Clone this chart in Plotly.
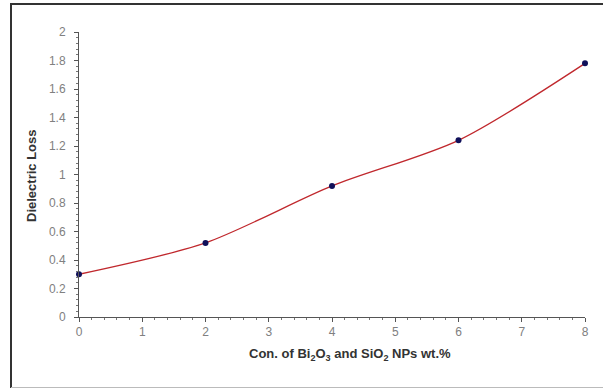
import plotly.graph_objects as go

conc = [0, 2, 4, 6, 8]
loss = [0.30, 0.52, 0.92, 1.24, 1.78]
x_ticks = [0, 1, 2, 3, 4, 5, 6, 7, 8]
y_ticks = [0, 0.2, 0.4, 0.6, 0.8, 1, 1.2, 1.4, 1.6, 1.8, 2]

fig = go.Figure()
fig.add_trace(go.Scatter(
    x=conc, y=loss, mode="lines+markers",
    line=dict(color="#c0282d", width=1.3, shape="spline", smoothing=0.8),
    marker=dict(color="#10105a", size=6),
    cliponaxis=False,
    showlegend=False,
))

W, H = 603, 389
l, r, t, b = 79, 18, 32, 72
pw, ph = W - l - r, H - t - b

def px(xp):
    return (xp - l) / pw

def py(yp):
    return (H - b - yp) / ph

fig.add_shape(type="line", xref="paper", yref="paper",
              x0=px(10), x1=px(603), y0=py(4), y1=py(4),
              line=dict(color="#333333", width=2))
fig.add_shape(type="line", xref="paper", yref="paper",
              x0=px(11), x1=px(11), y0=py(3), y1=py(388),
              line=dict(color="#333333", width=2))
fig.add_shape(type="line", xref="paper", yref="paper",
              x0=px(11), x1=px(603), y0=py(387.5), y1=py(387.5),
              line=dict(color="#bbbbbb", width=1))

fig.add_annotation(
    xref="paper", yref="paper", x=px(350), y=py(354),
    text="<b>Con. of Bi<sub>2</sub>O<sub>3</sub> and SiO<sub>2</sub> NPs wt.%</b>",
    showarrow=False, font=dict(family="Liberation Sans", size=13, color="#333333"),
    xanchor="center", yanchor="middle",
)
fig.add_annotation(
    xref="paper", yref="paper", x=px(31), y=py(176),
    text="<b>Dielectric Loss</b>", textangle=-90,
    showarrow=False, font=dict(family="Liberation Sans", size=13, color="#333333"),
    xanchor="center", yanchor="middle",
)

fig.update_layout(
    width=W, height=H,
    margin=dict(l=l, r=r, t=t, b=b),
    paper_bgcolor="white", plot_bgcolor="white",
    font=dict(family="Liberation Sans", size=12, color="#808080"),
)

fig.update_xaxes(
    range=[0, 8], tickvals=x_ticks, ticktext=[str(v) for v in x_ticks],
    showgrid=False, zeroline=False, showline=True, linecolor="#555555", linewidth=1,
    ticks="outside", ticklen=4, tickcolor="#555555",
    minor=dict(dtick=0.2, ticks="outside", ticklen=2, tickcolor="#777777"),
    tickfont=dict(size=12, color="#808080"),
)
fig.update_yaxes(
    range=[0, 2], tickvals=y_ticks, ticktext=[f"{v:g}" for v in y_ticks],
    showgrid=False, zeroline=False, showline=True, linecolor="#555555", linewidth=1,
    ticks="outside", ticklen=4, tickcolor="#555555", ticklabelstandoff=6,
    minor=dict(dtick=0.04, ticks="outside", ticklen=2, tickcolor="#777777"),
    tickfont=dict(size=12, color="#808080"),
)

fig.write_html(
    "out.html",
    config={"displayModeBar": False},
    post_script="document.body.style.margin='0';document.body.style.padding='0';document.body.style.overflow='hidden';",
)
